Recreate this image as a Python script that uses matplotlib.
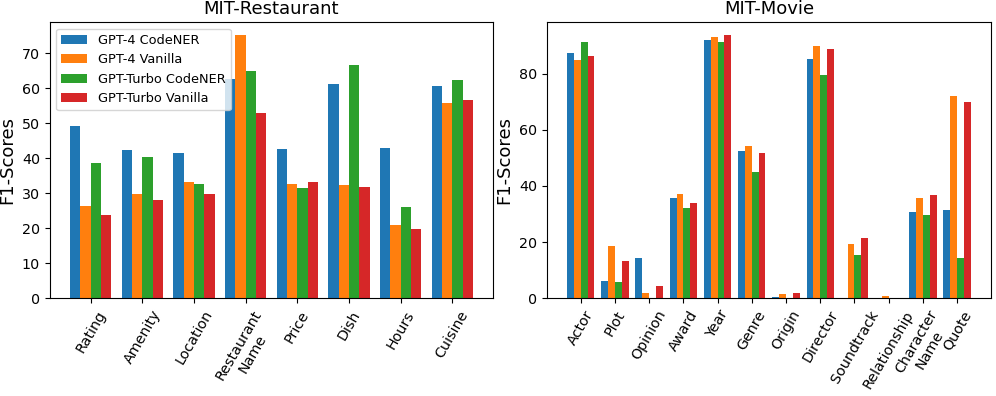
import numpy as np
import matplotlib
matplotlib.use("Agg")
import matplotlib.pyplot as plt

series = ["GPT-4 CodeNER", "GPT-4 Vanilla", "GPT-Turbo CodeNER", "GPT-Turbo Vanilla"]

# MIT-Restaurant
rest_labels = ["Rating", "Amenity", "Location", "Restaurant\nName", "Price", "Dish", "Hours", "Cuisine"]
rest_gpt4_code = [49.4, 42.5, 41.4, 62.6, 42.8, 61.3, 43.0, 60.7]
rest_gpt4_van = [26.3, 29.9, 33.3, 75.2, 32.8, 32.4, 21.0, 55.9]
rest_turbo_code = [38.8, 40.5, 32.8, 65.0, 31.6, 66.6, 26.0, 62.3]
rest_turbo_van = [23.7, 28.1, 29.9, 53.0, 33.2, 31.7, 19.9, 56.8]

# MIT-Movie
movie_labels = ["Actor", "Plot", "Opinion", "Award", "Year", "Genre", "Origin", "Director",
                "Soundtrack", "Relationship", "Character\nName", "Quote"]
movie_gpt4_code = [87.3, 6.3, 14.3, 35.7, 92.0, 52.6, 0.3, 85.1, 0.0, 0.0, 30.7, 31.5]
movie_gpt4_van = [84.9, 18.5, 1.7, 37.0, 93.1, 54.3, 1.5, 89.8, 19.2, 0.8, 35.8, 72.0]
movie_turbo_code = [91.2, 5.6, 0.0, 32.1, 91.3, 45.0, 0.0, 79.6, 15.4, 0.0, 29.5, 14.3]
movie_turbo_van = [86.4, 13.2, 4.4, 34.0, 93.7, 51.8, 1.9, 89.0, 21.4, 0.0, 36.8, 70.1]


def draw(ax, labels, data, title):
    x = np.arange(len(labels))
    w = 0.2
    for i, (vals, name) in enumerate(zip(data, series)):
        ax.bar(x + (i - 1.5) * w, vals, w, label=name)
    ax.set_xticks(x)
    ax.set_xticklabels(labels, rotation=60, fontsize=10.3)
    ax.tick_params(axis="y", labelsize=10.3)
    ax.set_ylabel("F1-Scores", fontsize=13)
    ax.set_title(title, fontsize=13)


fig = plt.figure(figsize=(9.96, 3.96), dpi=100)
ax1 = fig.add_axes([0.050, 0.247, 0.445, 0.697])
ax2 = fig.add_axes([0.549, 0.247, 0.446, 0.697])

draw(ax1, rest_labels, [rest_gpt4_code, rest_gpt4_van, rest_turbo_code, rest_turbo_van], "MIT-Restaurant")
draw(ax2, movie_labels, [movie_gpt4_code, movie_gpt4_van, movie_turbo_code, movie_turbo_van], "MIT-Movie")
ax1.legend(loc="upper left", fontsize=9.3)

fig.savefig("out.png", dpi=100)
